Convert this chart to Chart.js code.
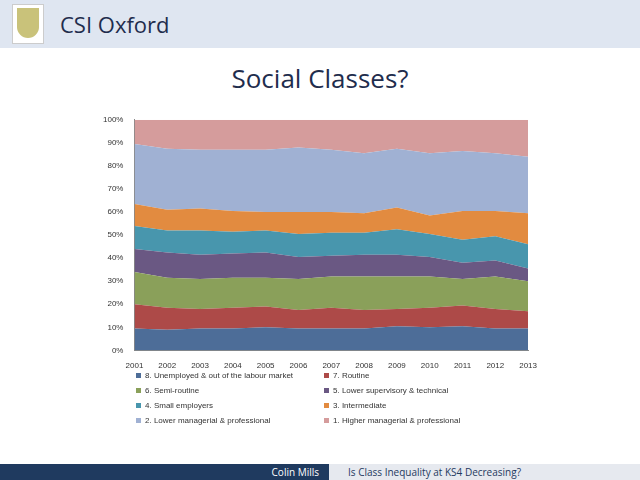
<!DOCTYPE html>
<html><head><meta charset="utf-8">
<script src="https://cdn.jsdelivr.net/npm/chart.js@4"></script>
<style>
body{margin:0;width:640px;height:480px;background:#fff;position:relative;overflow:hidden;font-family:"Open Sans",sans-serif}
#hdr{position:absolute;left:0;top:0;width:640px;height:48px;background:#dfe6f1}
#logo{position:absolute;left:12px;top:4px;width:30px;height:38px;background:#fff;border:1px solid #ccc}
#shield{position:absolute;left:4px;top:3px;width:22px;height:30px;background:#c9c27a;border-radius:0 0 11px 11px}
#hdr .t{position:absolute;left:60px;top:9px;font-size:22px;color:#1f2d4d}
#title{position:absolute;left:0;width:640px;top:60px;text-align:center;font-size:26px;color:#1f2d4d}
#wrap{position:absolute;left:100px;top:112px;width:440px;height:262px}
#legend{position:absolute;left:136px;top:371px;width:400px;font-family:"Liberation Sans",sans-serif;font-size:8px;color:#333}
#legend div{position:absolute;white-space:nowrap}
#legend span{display:inline-block;width:5px;height:5px;margin-right:4px}
#foot{position:absolute;left:0;top:464px;width:640px;height:16px;background:#e6e9ef;font-size:10px}
#foot .a{position:absolute;left:0;top:0;width:329px;height:16px;background:#1f3a5f;color:#fff;text-align:right}
#foot .a b{font-weight:normal;margin-right:10px;line-height:16px}
#foot .b{position:absolute;left:348px;top:0;line-height:16px;color:#1f3a5f}
</style></head><body>
<div id="hdr"><div id="logo"><div id="shield"></div></div><div class="t">CSI Oxford</div></div>
<div id="title">Social Classes?</div>
<div id="wrap"><canvas id="c"></canvas></div>
<div id="legend"></div>
<div id="foot"><div class="a"><b>Colin Mills</b></div><div class="b">Is Class Inequality at KS4 Decreasing?</div></div>
<script>
const years = ['2001','2002','2003','2004','2005','2006','2007','2008','2009','2010','2011','2012','2013'];
const names = ['8. Unemployed & out of the labour market','7. Routine','6. Semi-routine','5. Lower supervisory & technical','4. Small employers','3. Intermediate','2. Lower managerial & professional','1. Higher managerial & professional'];
const colors = ['#4d6d98','#ad4a48','#8aa05a','#6a5883','#4896ad','#e28b40','#a0b1d3','#d59c9c'];
const c8 = [9.5,9,9.5,9.5,10,9.5,9.5,9.5,10.5,10,10.5,9.5,9.5];
const c7 = [10.5,9.5,8.5,9,9,8,9,8,7.5,8.5,9,8.5,7.5];
const c6 = [14,13,13,13,12.5,13.5,13.5,14.5,14,13.5,11.5,14,13];
const c5 = [10,11,10.5,10.5,11,9.5,9,9.5,9.5,8.5,7,7,5.5];
const c4 = [10,9.5,10.5,9.5,9.5,10,10,9.5,11,10,10,10.5,10.5];
const c3 = [9.5,9,9.5,9,8,9.5,9,8.5,9.5,8,12.5,11,13.5];
const c2 = [26,26.5,25.5,26.5,27,28,27,26,25.5,27,26,25,24.5];
const c1 = [10.5,12.5,13,13,13,12,13,14.5,12.5,14.5,13.5,14.5,16];
const series = [c8,c7,c6,c5,c4,c3,c2,c1];

new Chart(document.getElementById('c'), {
  type: 'line',
  data: {
    labels: years,
    datasets: series.map((d, i) => ({
      label: names[i], data: d,
      backgroundColor: colors[i], borderColor: colors[i], borderWidth: 0,
      pointRadius: 0, tension: 0, fill: i === 0 ? 'origin' : '-1'
    }))
  },
  options: {
    responsive: true, maintainAspectRatio: false, animation: false,
    layout: { padding: { right: 10 } },
    plugins: { legend: { display: false }, tooltip: { enabled: false } },
    scales: {
      x: { offset: false, grid: { display: false }, border: { color: '#888' },
           ticks: { color: '#333', font: { size: 8 }, maxRotation: 0 } },
      y: { stacked: true, min: 0, max: 100, grid: { display: false }, border: { color: '#888' },
           ticks: { stepSize: 10, color: '#333', font: { size: 8 }, callback: v => v + '%' } }
    }
  }
});

// two-column legend, same order as the original
const lg = document.getElementById('legend');
names.forEach((n, i) => {
  const d = document.createElement('div');
  d.style.left = (i % 2 ? 188 : 0) + 'px';
  d.style.top = (Math.floor(i / 2) * 15) + 'px';
  d.innerHTML = '<span style="background:' + colors[i] + '"></span>' + n;
  lg.appendChild(d);
});
</script>
</body></html>
